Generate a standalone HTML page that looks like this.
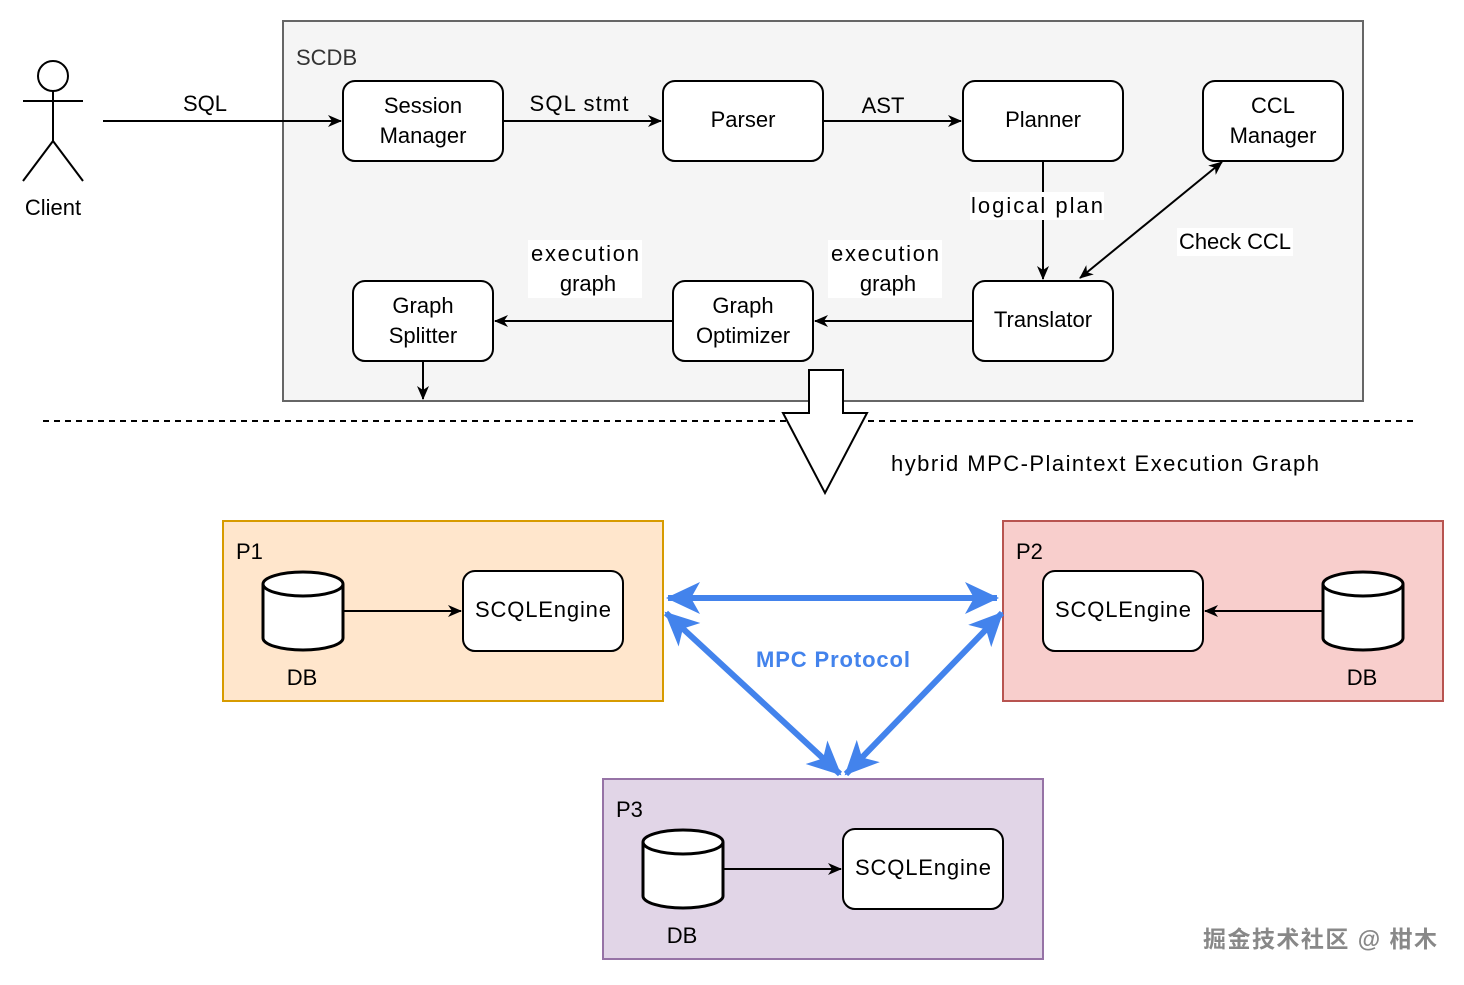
<!DOCTYPE html>
<html><head><meta charset="utf-8"><style>
html,body{margin:0;padding:0;background:#fff;}
svg text{font-family:"Liberation Sans","Noto Sans CJK SC",sans-serif;font-size:22px;fill:#000;}
</style></head><body>
<svg width="1464" height="980" viewBox="0 0 1464 980" xmlns="http://www.w3.org/2000/svg">
<defs>
<marker id="a" markerWidth="16" markerHeight="16" refX="13" refY="8" orient="auto" markerUnits="userSpaceOnUse">
<path d="M0,2 L14,8 L0,14 L4,8 Z" fill="#000"/></marker>
<marker id="as" markerWidth="16" markerHeight="16" refX="13" refY="8" orient="auto-start-reverse" markerUnits="userSpaceOnUse">
<path d="M0,2 L14,8 L0,14 L4,8 Z" fill="#000"/></marker>
<marker id="b" markerWidth="36" markerHeight="36" refX="32" refY="18" orient="auto-start-reverse" markerUnits="userSpaceOnUse">
<path d="M0,2 L34,18 L0,34 L9,18 Z" fill="#4383ec"/></marker>
</defs>
<g stroke="#000" stroke-width="2" fill="none">
<circle cx="53" cy="76" r="15" fill="#fff"/>
<line x1="53" y1="91" x2="53" y2="141"/>
<line x1="23" y1="101" x2="83" y2="101"/>
<line x1="53" y1="141" x2="23" y2="181"/>
<line x1="53" y1="141" x2="83" y2="181"/>
</g>
<text x="53" y="215" text-anchor="middle">Client</text>
<rect x="283" y="21" width="1080" height="380" fill="#f5f5f5" stroke="#666" stroke-width="2"/>
<text x="296" y="65" style="fill:#333">SCDB</text>
<line x1="103" y1="121" x2="341" y2="121" stroke="#000" stroke-width="2" marker-end="url(#a)"/>
<text x="205" y="111" text-anchor="middle">SQL</text>
<g fill="#fff" stroke="#000" stroke-width="2">
<rect x="343" y="81" width="160" height="80" rx="12"/>
<rect x="663" y="81" width="160" height="80" rx="12"/>
<rect x="963" y="81" width="160" height="80" rx="12"/>
<rect x="1203" y="81" width="140" height="80" rx="12"/>
<rect x="973" y="281" width="140" height="80" rx="12"/>
<rect x="673" y="281" width="140" height="80" rx="12"/>
<rect x="353" y="281" width="140" height="80" rx="12"/>
</g>
<g text-anchor="middle">
<text x="423" y="113">Session</text><text x="423" y="143">Manager</text>
<text x="743" y="127">Parser</text>
<text x="1043" y="127">Planner</text>
<text x="1273" y="113">CCL</text><text x="1273" y="143">Manager</text>
<text x="1043" y="327">Translator</text>
<text x="743" y="313">Graph</text><text x="743" y="343">Optimizer</text>
<text x="423" y="313">Graph</text><text x="423" y="343">Splitter</text>
</g>
<g stroke="#000" stroke-width="2">
<line x1="503" y1="121" x2="661" y2="121" marker-end="url(#a)"/>
<line x1="823" y1="121" x2="961" y2="121" marker-end="url(#a)"/>
<line x1="1043" y1="161" x2="1043" y2="279" marker-end="url(#a)"/>
<line x1="1080" y1="278" x2="1222" y2="162" marker-start="url(#as)" marker-end="url(#a)"/>
<line x1="973" y1="321" x2="815" y2="321" marker-end="url(#a)"/>
<line x1="673" y1="321" x2="495" y2="321" marker-end="url(#a)"/>
<line x1="423" y1="361" x2="423" y2="399" marker-end="url(#a)"/>
</g>
<g text-anchor="middle">
<text x="579" y="111" textLength="99">SQL stmt</text>
<text x="883" y="113">AST</text>
<rect x="970" y="192" width="134" height="28" fill="#fff"/>
<text x="1037" y="213" textLength="132">logical plan</text>
<rect x="1177" y="228" width="116" height="28" fill="#fff"/>
<text x="1235" y="249" textLength="112">Check CCL</text>
<rect x="828" y="240" width="114" height="58" fill="#fff"/>
<text x="885" y="261" textLength="108">execution</text><text x="888" y="291">graph</text>
<rect x="528" y="240" width="114" height="58" fill="#fff"/>
<text x="585" y="261" textLength="108">execution</text><text x="588" y="291">graph</text>
</g>
<line x1="43" y1="421" x2="1418" y2="421" stroke="#000" stroke-width="2" stroke-dasharray="6,5"/>
<polygon points="809,370 843,370 843,413 867,413 825,493 783,413 809,413" fill="#fff" stroke="#000" stroke-width="2"/>
<text x="891" y="471" textLength="428">hybrid MPC-Plaintext Execution Graph</text>
<rect x="223" y="521" width="440" height="180" fill="#ffe6cc" stroke="#d79b00" stroke-width="2"/>
<rect x="1003" y="521" width="440" height="180" fill="#f8cecc" stroke="#b85450" stroke-width="2"/>
<rect x="603" y="779" width="440" height="180" fill="#e1d5e7" stroke="#9673a6" stroke-width="2"/>
<text x="236" y="559">P1</text><text x="1016" y="559">P2</text><text x="616" y="817">P3</text>
<g fill="#fff" stroke="#000" stroke-width="3">
<path d="M263,584 a40,12 0 0 1 80,0 v54 a40,12 0 0 1 -80,0 z"/><path d="M263,584 a40,12 0 0 0 80,0" fill="none"/>
<path d="M1323,584 a40,12 0 0 1 80,0 v54 a40,12 0 0 1 -80,0 z"/><path d="M1323,584 a40,12 0 0 0 80,0" fill="none"/>
<path d="M643,842 a40,12 0 0 1 80,0 v54 a40,12 0 0 1 -80,0 z"/><path d="M643,842 a40,12 0 0 0 80,0" fill="none"/>
</g>
<g fill="#fff" stroke="#000" stroke-width="2">
<rect x="463" y="571" width="160" height="80" rx="12"/>
<rect x="1043" y="571" width="160" height="80" rx="12"/>
<rect x="843" y="829" width="160" height="80" rx="12"/>
</g>
<g text-anchor="middle">
<text x="543" y="617" textLength="136">SCQLEngine</text>
<text x="1123" y="617" textLength="136">SCQLEngine</text>
<text x="923" y="875" textLength="136">SCQLEngine</text>
<text x="302" y="685">DB</text><text x="1362" y="685">DB</text><text x="682" y="943">DB</text>
</g>
<g stroke="#000" stroke-width="2">
<line x1="343" y1="611" x2="461" y2="611" marker-end="url(#a)"/>
<line x1="1323" y1="611" x2="1205" y2="611" marker-end="url(#a)"/>
<line x1="723" y1="869" x2="841" y2="869" marker-end="url(#a)"/>
</g>
<g stroke="#4383ec" stroke-width="6">
<line x1="668" y1="598" x2="997" y2="598" marker-start="url(#b)" marker-end="url(#b)"/>
<line x1="666" y1="613" x2="840" y2="774" marker-start="url(#b)" marker-end="url(#b)"/>
<line x1="1002" y1="613" x2="846" y2="774" marker-start="url(#b)" marker-end="url(#b)"/>
</g>
<text x="833" y="667" text-anchor="middle" textLength="154" style="fill:#4383ec;font-weight:bold">MPC Protocol</text>
<text x="1203" y="947" textLength="234" style="fill:#888;font-size:23px;font-weight:bold">掘金技术社区 @ 柑木</text>
</svg>
</body></html>
